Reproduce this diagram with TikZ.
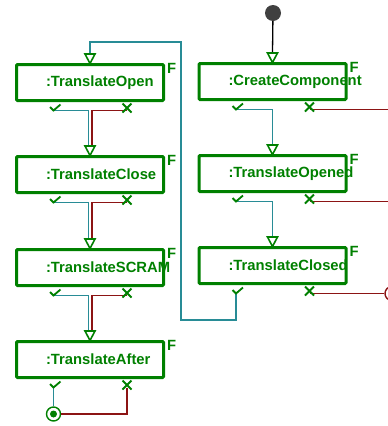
\documentclass[tikz,border=0pt]{standalone}
\usepackage{fontspec}
\setmainfont{Liberation Sans}
\usetikzlibrary{calc}
\definecolor{actgreen}{RGB}{0,128,0}
\definecolor{okflow}{RGB}{40,140,150}
\definecolor{koflow}{RGB}{140,20,20}
\definecolor{initgray}{RGB}{64,64,64}
\newcommand\actfont{\fontsize{14.8}{17}\selectfont\bfseries}
\def\entrytip(#1){\draw[actgreen, line width=1.6pt] ($(#1.north)+(-5,-9)$) -- ($(#1.north)+(5,-9)$) -- ($(#1.north)+(0,0.5)$) -- cycle;}
\def\okmark(#1){\draw[actgreen, line width=1.8pt] ($(#1)+(-3.5,-3.5)$) -- (#1) -- ($(#1)+(7,-6)$);}
\def\komark(#1){\draw[actgreen, line width=1.8pt] ($(#1)+(-4.5,-7)$) -- ($(#1)+(4.5,2)$) ($(#1)+(-4.5,2)$) -- ($(#1)+(4.5,-7)$);}
\def\actnode(#1)(#2,#3)#4{\node[act] (#1) at (#2,#3) {\makebox[147pt][l]{\hspace{29.5pt}#4}};
	\coordinate (#1-ok) at ($(#1.south west)+(38.5,8.5)$);
	\coordinate (#1-ko) at ($(#1.south east)+(-38,8.5)$);}

\begin{document}
\begin{tikzpicture}[x=1pt, y=-1pt,
		act/.style={draw=actgreen, line width=3pt, rounded corners=1pt, minimum height=36pt, inner xsep=0pt, inner ysep=0pt, text=actgreen, font=\actfont,
			label={[anchor=north west, inner sep=0pt, xshift=2pt, text=actgreen, font=\actfont]north east:F}},
		okline/.style={okflow, line width=1.3pt},
		koline/.style={koflow, line width=1.3pt},
		final/.style={circle, line width=1.4pt, minimum size=14pt, inner sep=0pt}]
	\useasboundingbox (0,0) rectangle (388,426);
	
	\node[circle, fill=initgray, minimum size=16pt, inner sep=0pt] (init) at (273,13) {};
	
	\actnode(open)(90,82.5){:TranslateOpen}
	\actnode(close)(90,174.5){:TranslateClose}
	\actnode(scram)(90,267.5){:TranslateSCRAM}
	\actnode(after)(90,359.5){:TranslateAfter}
	\actnode(create)(272.5,81.5){:CreateComponent}
	\actnode(opened)(272.5,173.5){:TranslateOpened}
	\actnode(closed)(272.5,265.5){:TranslateClosed}
	
	\node[final, draw=actgreen] (done) at (53.5,414) {};
	\fill[actgreen] (done) circle (3.5pt);
	\node[final, draw=koflow] (stop) at (392,293.5) {};
	\fill[koflow] (stop) circle (3.5pt);
	
	\coordinate (edge) at (392,0);
	\coordinate (loop-s) at (181,320);
	\coordinate (loop-n) at (181,42);
	
	\draw[line width=1.3pt] (init) -- ($(create.north)+(0,-9)$);
	\draw[okline] (create-ok) -| ($(opened.north)+(0,-9)$);
	\draw[okline] (opened-ok) -| ($(closed.north)+(0,-9)$);
	\draw[okline] (closed-ok) |- (loop-s) -- (loop-n) -| ($(open.north)+(0,-9)$);
	\draw[koline] (create-ko) -- (create-ko -| edge);
	\draw[koline] (opened-ko) -- (opened-ko -| edge);
	\draw[koline] (closed-ko) -- (stop);
	
	\draw[okline] (open-ok) -| ($(close.north)+(-1.5,-9)$);
	\draw[koline] (open-ko) -| ($(close.north)+(2,-9)$);
	\draw[okline] (close-ok) -| ($(scram.north)+(-1.5,-9)$);
	\draw[koline] (close-ko) -| ($(scram.north)+(2,-9)$);
	\draw[okline] (scram-ok) -| ($(after.north)+(-1.5,-9)$);
	\draw[koline] (scram-ko) -| ($(after.north)+(2,-9)$);
	\draw[okline] (after-ok) -- (done);
	\draw[koline] (after-ko) |- (done);
	
	\foreach \a in {open,close,scram,after,create,opened,closed}{
		\entrytip(\a)
		\okmark(\a-ok)
		\komark(\a-ko)
	}
\end{tikzpicture}
\end{document}
